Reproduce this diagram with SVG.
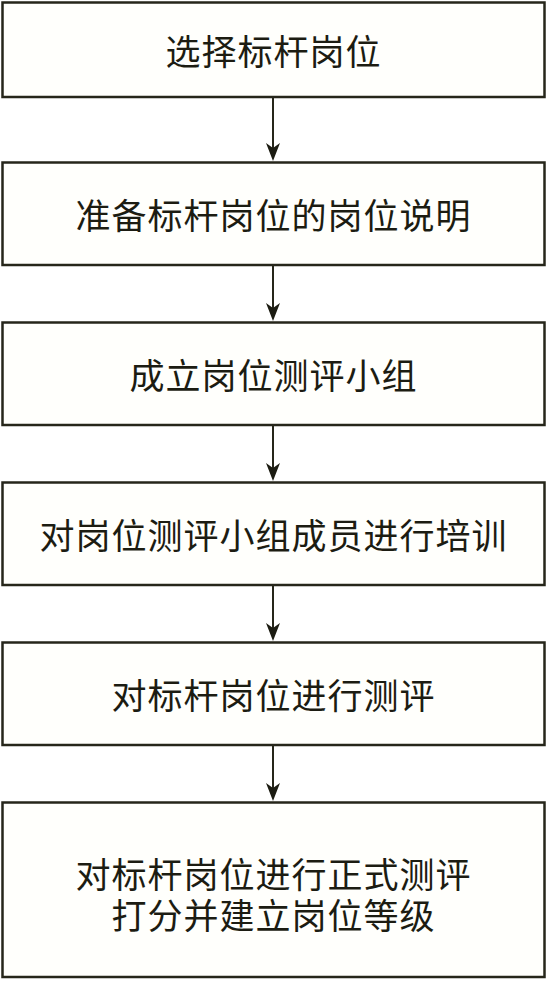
<svg xmlns="http://www.w3.org/2000/svg" width="547" height="981" viewBox="0 0 547 981">
<defs>
<style>
.box{fill:#fffffc;stroke:#26261a;stroke-width:2.5}
.t{font-family:"Noto Sans CJK SC","Noto Sans CJK JP",sans-serif;font-size:35px;letter-spacing:1px;fill:#1c1c12;text-anchor:middle;dominant-baseline:central}
.c{stroke:#26261a;stroke-width:2;fill:none}
</style>
</defs>
<rect width="547" height="981" fill="#ffffff"/>
<g id="n1"><rect class="box" x="2.5" y="2.5" width="542" height="94.5"/><text class="t" x="273.5" y="49">选择标杆岗位</text></g>
<g id="n2"><rect class="box" x="2.5" y="162.5" width="542" height="102.5"/><text class="t" x="273.5" y="213">准备标杆岗位的岗位说明</text></g>
<g id="n3"><rect class="box" x="2.5" y="322.5" width="542" height="102.5"/><text class="t" x="273.5" y="373">成立岗位测评小组</text></g>
<g id="n4"><rect class="box" x="2.5" y="482.5" width="542" height="102.5"/><text class="t" x="273.5" y="533">对岗位测评小组成员进行培训</text></g>
<g id="n5"><rect class="box" x="2.5" y="642.5" width="542" height="102.5"/><text class="t" x="273.5" y="693">对标杆岗位进行测评</text></g>
<g id="n6"><rect class="box" x="2.5" y="802.5" width="542" height="174.5"/><text class="t"><tspan x="273.5" y="872">对标杆岗位进行正式测评</tspan><tspan x="273.5" y="913">打分并建立岗位等级</tspan></text></g>
<g id="connectors">
<g class="c">
<line x1="273" y1="98" x2="273" y2="150"/>
<line x1="273" y1="266" x2="273" y2="310"/>
<line x1="273" y1="426" x2="273" y2="470"/>
<line x1="273" y1="586" x2="273" y2="630"/>
<line x1="273" y1="746" x2="273" y2="790"/>
</g>
<g fill="#1c1c12">
<path d="M266,143 L273,148 L280,143 L273,161 Z"/>
<path d="M266,303 L273,308 L280,303 L273,321 Z"/>
<path d="M266,463 L273,468 L280,463 L273,481 Z"/>
<path d="M266,623 L273,628 L280,623 L273,641 Z"/>
<path d="M266,783 L273,788 L280,783 L273,801 Z"/>
</g>
</g>
</svg>
